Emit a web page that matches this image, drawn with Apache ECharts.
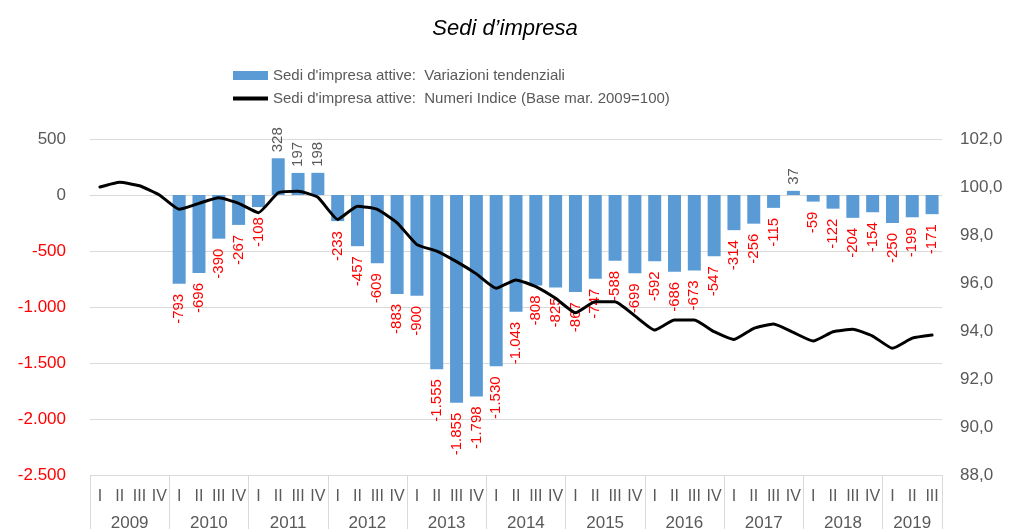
<!DOCTYPE html>
<html>
<head>
<meta charset="utf-8">
<script src="https://cdn.jsdelivr.net/npm/echarts@6/dist/echarts.min.js"></script>
<style>
html,body{margin:0;padding:0;background:#fff;}
#chart{width:1010px;height:529px;}
</style>
</head>
<body>
<div id="chart"></div>
<script>
// ---- data ----
const years = ['2009','2010','2011','2012','2013','2014','2015','2016','2017','2018','2019'];
const quarterNames = ['I','II','III','IV'];
const quartersPerYear = [4,4,4,4,4,4,4,4,4,4,3];
const variazioni = [
  null, null, null, null,
  -793, -696, -390, -267,
  -108, 328, 197, 198,
  -233, -457, -609, -883,
  -900, -1555, -1855, -1798,
  -1530, -1043, -808, -825,
  -867, -747, -588, -699,
  -592, -686, -673, -547,
  -314, -256, -115, 37,
  -59, -122, -204, -154,
  -250, -199, -171
];
const numeriIndice = [
  100.0, 100.2, 100.05, 99.67,
  99.07, 99.32, 99.55, 99.32,
  98.93, 99.76, 99.82, 99.57,
  98.65, 99.2, 99.07, 98.51,
  97.6, 97.33, 96.89, 96.38,
  95.78, 96.13, 95.85, 95.36,
  94.76, 95.22, 95.22, 94.63,
  94.04, 94.46, 94.46, 93.97,
  93.65, 94.11, 94.29, 93.94,
  93.58, 93.97, 94.07, 93.79,
  93.28, 93.7, 93.83
];
const leftTicks = {min: -2500, max: 500, interval: 500};
const rightTicks = {min: 88, max: 102, interval: 2};
const seriesNames = ['Sedi d\'impresa attive:  Variazioni tendenziali', 'Sedi d\'impresa attive:  Numeri Indice (Base mar. 2009=100)'];

// ---- derived axes ----
const quarterCats = [];
years.forEach((y, yi) => { for (let q = 0; q < quartersPerYear[yi]; q++) quarterCats.push(quarterNames[q]); });
const nQ = quarterCats.length;
// year axis: half-quarter points (boundaryGap false), labels at year centres
const yearCats = new Array(2 * nQ + 1).fill('');
const yearBounds = [0];
let acc = 0;
years.forEach((y, yi) => {
  yearCats[acc * 2 + quartersPerYear[yi]] = y;
  acc += quartersPerYear[yi];
  yearBounds.push(acc * 2);
});

function fmtThousands(v) {
  const s = String(Math.abs(Math.round(v))).replace(/\B(?=(\d{3})+(?!\d))/g, '.');
  return (v < 0 ? '-' : '') + s;
}

const GRAY = '#595959';
const RED = '#FF0000';
const FONT = 'Liberation Sans, Arial, sans-serif';

const barData = variazioni.map(v => {
  if (v === null) return null;
  const neg = v < 0;
  return {
    value: v,
    label: {
      show: true,
      position: neg ? 'bottom' : 'top',
      rotate: 90,
      align: neg ? 'right' : 'left',
      verticalAlign: 'middle',
      distance: neg ? 10 : 6,
      color: neg ? RED : GRAY,
      fontSize: 15,
      fontFamily: FONT,
      formatter: p => fmtThousands(p.value)
    }
  };
});

const chart = echarts.init(document.getElementById('chart'), null, {renderer: 'canvas'});
chart.setOption({
  backgroundColor: '#ffffff',
  animation: false,
  title: {
    text: 'Sedi d’impresa',
    left: 'center',
    top: 13,
    textStyle: {fontFamily: FONT, fontStyle: 'italic', fontWeight: 'normal', fontSize: 22, color: '#000'}
  },
  legend: {
    orient: 'vertical',
    left: 228,
    top: 63,
    itemWidth: 35,
    itemHeight: 9,
    itemGap: 8,
    textStyle: {fontFamily: FONT, fontSize: 15, color: GRAY},
    data: [
      {name: seriesNames[0], icon: 'rect'},
      {name: seriesNames[1], icon: 'path://M0,0 L35,0 L35,4 L0,4 Z', itemStyle: {color: '#000'}}
    ]
  },
  grid: {left: 90, right: 68, top: 139, bottom: 54, containLabel: false, outerBoundsMode: 'none'},
  xAxis: [
    {
      type: 'category',
      data: quarterCats,
      boundaryGap: true,
      position: 'bottom',
      axisLine: {show: true, lineStyle: {color: '#D9D9D9', width: 1}},
      axisTick: {show: false},
      axisLabel: {interval: 0, margin: 14, color: GRAY, fontSize: 16, fontFamily: FONT},
      splitLine: {show: false}
    },
    {
      type: 'category',
      data: yearCats,
      boundaryGap: false,
      position: 'bottom',
      axisLine: {show: false},
      axisTick: {
        show: true,
        length: 56,
        interval: (idx) => yearBounds.indexOf(idx) >= 0,
        lineStyle: {color: '#D9D9D9', width: 1}
      },
      axisLabel: {interval: 0, margin: 40, color: GRAY, fontSize: 17, fontFamily: FONT},
      splitLine: {show: false}
    }
  ],
  yAxis: [
    {
      type: 'value',
      min: leftTicks.min, max: leftTicks.max, interval: leftTicks.interval,
      axisLine: {show: false},
      axisTick: {show: false},
      splitLine: {show: true, lineStyle: {color: '#D9D9D9', width: 1}},
      axisLabel: {
        margin: 24,
        fontSize: 17,
        fontFamily: FONT,
        formatter: v => fmtThousands(v),
        color: v => (Number(v) < 0 ? RED : GRAY)
      }
    },
    {
      type: 'value',
      min: rightTicks.min, max: rightTicks.max, interval: rightTicks.interval,
      position: 'right',
      axisLine: {show: false},
      axisTick: {show: false},
      splitLine: {show: false},
      axisLabel: {
        margin: 18,
        fontSize: 17,
        fontFamily: FONT,
        color: GRAY,
        formatter: v => Number(v).toFixed(1).replace('.', ',')
      }
    }
  ],
  series: [
    {
      name: seriesNames[0],
      type: 'bar',
      xAxisIndex: 0,
      yAxisIndex: 0,
      barWidth: 13,
      itemStyle: {color: '#5B9BD5'},
      data: barData,
      z: 2
    },
    {
      name: seriesNames[1],
      type: 'line',
      xAxisIndex: 0,
      yAxisIndex: 1,
      data: numeriIndice,
      symbol: 'none',
      smooth: 0.15,
      lineStyle: {color: '#000000', width: 3, join: 'round', cap: 'round'},
      itemStyle: {color: '#000000'},
      z: 3
    }
  ]
});
</script>
</body>
</html>
